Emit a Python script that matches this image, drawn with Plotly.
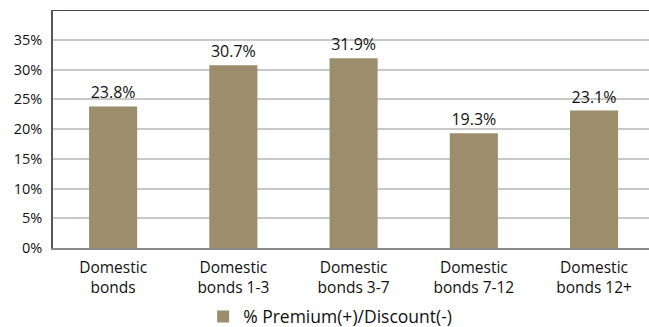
import plotly.graph_objects as go

categories = ["Domestic<br>bonds", "Domestic<br>bonds 1-3", "Domestic<br>bonds 3-7",
              "Domestic<br>bonds 7-12", "Domestic<br>bonds 12+"]
premium_discount = [23.8, 30.7, 31.9, 19.3, 23.1]
series_name = "% Premium(+)/Discount(-)"
y_ticks = [0, 5, 10, 15, 20, 25, 30, 35]
y_tick_labels = ["0%", "5%", "10%", "15%", "20%", "25%", "30%", "35%"]

FONT = "Open Sans"
BAR_COLOR = "#9c8e6d"
TEXT_COLOR = "#111111"

fig = go.Figure()
fig.add_trace(go.Bar(
    x=categories,
    y=premium_discount,
    name=series_name,
    marker=dict(color=BAR_COLOR, line=dict(width=0)),
    text=[f"{v:.1f}%" for v in premium_discount],
    textposition="outside",
    textfont=dict(family=FONT, size=16, color=TEXT_COLOR),
    cliponaxis=False,
    showlegend=True,
))

fig.update_layout(
    width=649,
    height=327,
    margin=dict(l=53, r=0, t=10, b=79, autoexpand=False),
    paper_bgcolor="white",
    plot_bgcolor="white",
    bargap=0.6,
    font=dict(family=FONT, color=TEXT_COLOR),
    showlegend=True,
    legend=dict(
        orientation="h",
        xref="container", x=0.313, xanchor="left",
        yref="container", y=0.032, yanchor="middle",
        font=dict(family=FONT, size=17.5, color=TEXT_COLOR),
        bgcolor="rgba(0,0,0,0)",
    ),
    xaxis=dict(
        range=[-0.5, 4.457],
        automargin=False,
        showline=True, linecolor="#8a8a8a", linewidth=2,
        showgrid=False, ticks="", ticklabelstandoff=4,
        tickfont=dict(family=FONT, size=15.5, color=TEXT_COLOR),
        fixedrange=True,
    ),
    yaxis=dict(
        range=[0, 40],
        automargin=False,
        tickvals=y_ticks, ticktext=y_tick_labels,
        showline=True, linecolor="#555560", linewidth=1.5,
        showgrid=True, gridcolor="#c8c8c8", gridwidth=1.5,
        zeroline=False,
        ticks="", ticklabelstandoff=6,
        tickfont=dict(family=FONT, size=14.5, color=TEXT_COLOR),
        fixedrange=True,
    ),
    shapes=[dict(
        type="line", xref="paper", yref="y",
        x0=0, x1=1, y0=40, y1=40,
        line=dict(color="#4a4a55", width=2),
    )],
)

fig.write_html("out.html")
